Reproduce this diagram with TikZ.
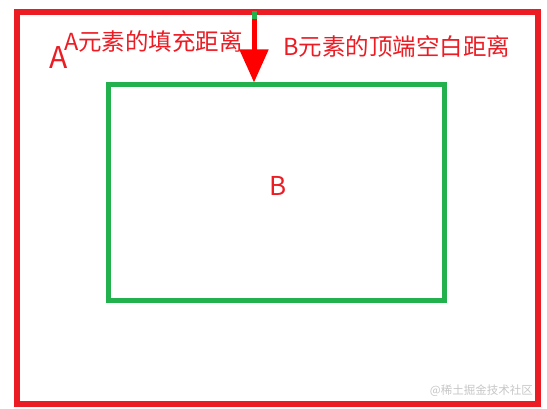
\documentclass[tikz,border=0pt]{standalone}
\usepackage{fontspec}
\setmainfont{Noto Sans CJK SC}
\usetikzlibrary{arrows.meta}
\definecolor{fr}{RGB}{236,28,36}
\definecolor{fg}{RGB}{34,177,76}
\definecolor{ar}{RGB}{255,0,0}
\tikzset{
  boxa/.style={draw=fr, line width=5.5pt, inner sep=0pt, minimum width=521pt, minimum height=392pt},
  boxb/.style={draw=fg, line width=5pt, inner sep=0pt, minimum width=336pt, minimum height=216pt},
  lbl/.style={text=fr, inner sep=0pt, font=\fontsize{23.5}{27}\selectfont},
}
\begin{document}
\begin{tikzpicture}[x=1pt,y=-1pt]
\useasboundingbox (0,0) rectangle (547,409);
\node[boxa] (A) at (277.5,208) {};
\node[boxb] (B) at (276.5,193) {};
\coordinate (s) at (254,11);
\coordinate (m) at (254,19);
\coordinate (t) at (m |- B.north);
\draw[fg, line width=5pt] (s) -- (m);
\draw[ar, line width=5pt, -{Triangle[length=33pt,width=28pt]}] (m) -- (t);
\node[lbl, anchor=west] (ta) at (64,42) {A元素的填充距离};
\node[lbl, anchor=west] (tb) at (283,47) {B元素的顶端空白距离};
\node[text=fr, inner sep=0pt, font=\fontsize{30}{34}\selectfont] (la) at (58.5,58) {A};
\node[text=fr, inner sep=0pt, font=\fontsize{26}{30}\selectfont] (lb) at (278.5,186) {B};
\node[text=gray!45, inner sep=0pt, anchor=east, font=\fontsize{11.5}{13}\selectfont] (wm) at (533,391) {@稀土掘金技术社区};
\end{tikzpicture}
\end{document}
